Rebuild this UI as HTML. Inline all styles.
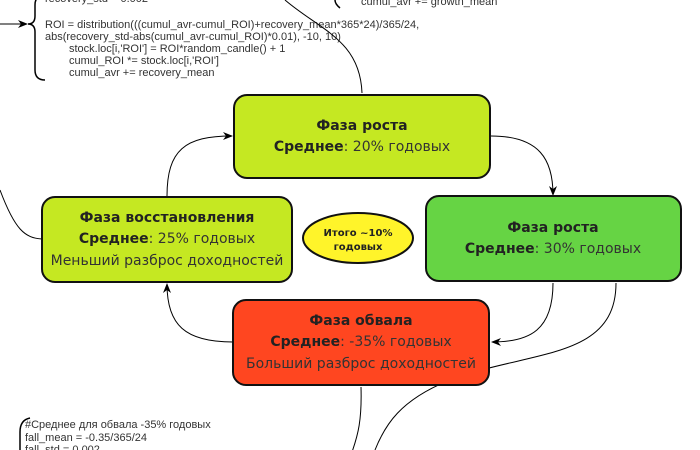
<!DOCTYPE html>
<html><head><meta charset="utf-8"><style>
html,body{margin:0;padding:0;background:#fff;width:700px;height:450px;overflow:hidden}
svg{display:block}
.code{font-family:"Liberation Sans","DejaVu Sans",sans-serif;font-size:11px;fill:#333}
.t{font-family:"DejaVu Sans","Liberation Sans",sans-serif;font-size:14px;fill:#333;text-anchor:middle}
.b{font-weight:bold;fill:#222}
</style></head><body>
<svg width="700" height="450" viewBox="0 0 700 450" xmlns="http://www.w3.org/2000/svg">
<defs><marker id="a" viewBox="0 0 10 10" refX="9" refY="5" markerWidth="10" markerHeight="10" orient="auto" markerUnits="userSpaceOnUse"><path d="M0,1 L10,5 L0,9 L3,5 z" fill="#000"/></marker></defs>
<!-- top code -->
<text class="code" x="45" y="2">recovery_std = 0.002</text>
<text class="code" x="45" y="28">ROI = distribution(((cumul_avr-cumul_ROI)+recovery_mean*365*24)/365/24,</text>
<text class="code" x="45" y="40">abs(recovery_std-abs(cumul_avr-cumul_ROI)*0.01), -10, 10)</text>
<text class="code" x="69" y="52">stock.loc[i,'ROI'] = ROI*random_candle() + 1</text>
<text class="code" x="69" y="64">cumul_ROI *= stock.loc[i,'ROI']</text>
<text class="code" x="69" y="76">cumul_avr += recovery_mean</text>
<path d="M45,-5 Q35,-5 35,5 L35,16 Q35,24 28,24 Q35,24 35,32 L35,70 Q35,80 45,80" fill="none" stroke="#000" stroke-width="1.5"/>
<line x1="0" y1="24" x2="27" y2="24" stroke="#000" stroke-width="1" marker-end="url(#a)"/>
<text class="code" x="361" y="5">cumul_avr += growth_mean</text>
<path d="M340,-8 Q330,0 340,8" fill="none" stroke="#000" stroke-width="1.5"/>
<!-- connectors -->
<path d="M285,0 C320,30 360,40 362,93" fill="none" stroke="#000" stroke-width="1"/>
<path d="M0,190 C15,230 25,238 42,239" fill="none" stroke="#000" stroke-width="1"/>
<path d="M167,196 C167,150 185,136 232,136" fill="none" stroke="#000" stroke-width="1" marker-end="url(#a)"/>
<path d="M491,136 C540,136 553,160 553,195" fill="none" stroke="#000" stroke-width="1" marker-end="url(#a)"/>
<path d="M553,283 C553,330 530,342 492,342" fill="none" stroke="#000" stroke-width="1" marker-end="url(#a)"/>
<path d="M616,283 C616,360 530,350 450,380 C400,400 385,425 375,450" fill="none" stroke="#000" stroke-width="1"/>
<path d="M361,387 C362,420 358,435 352,452" fill="none" stroke="#000" stroke-width="1"/>
<path d="M233,342 C185,342 167,325 167,284" fill="none" stroke="#000" stroke-width="1" marker-end="url(#a)"/>
<!-- boxes -->
<rect x="234" y="95" width="256" height="83" rx="13" fill="#c5e822" stroke="#111" stroke-width="2"/>
<text class="t b" x="362" y="130">Фаза роста</text>
<text class="t" x="362" y="151"><tspan class="b">Среднее</tspan>: 20% годовых</text>
<rect x="42" y="197" width="250" height="85" rx="13" fill="#c5e822" stroke="#111" stroke-width="2"/>
<text class="t b" x="167" y="222">Фаза восстановления</text>
<text class="t" x="167" y="243"><tspan class="b">Среднее</tspan>: 25% годовых</text>
<text class="t" x="167" y="265">Меньший разброс доходностей</text>
<ellipse cx="358" cy="238" rx="55" ry="25" fill="#fff42a" stroke="#111" stroke-width="2"/>
<text class="t b" x="358" y="236" style="font-size:10px">Итого ~10%</text>
<text class="t b" x="358" y="250" style="font-size:10px">годовых</text>
<rect x="426" y="196" width="255" height="85" rx="13" fill="#66d444" stroke="#111" stroke-width="2"/>
<text class="t b" x="553" y="232">Фаза роста</text>
<text class="t" x="553" y="253"><tspan class="b">Среднее</tspan>: 30% годовых</text>
<rect x="233" y="300" width="256" height="85" rx="13" fill="#ff4620" stroke="#111" stroke-width="2"/>
<text class="t b" x="361" y="325">Фаза обвала</text>
<text class="t" x="361" y="346"><tspan class="b">Среднее</tspan>: -35% годовых</text>
<text class="t" x="361" y="368">Больший разброс доходностей</text>
<!-- bottom code -->
<path d="M30,418 Q20,420 20,432 L20,460" fill="none" stroke="#000" stroke-width="1.5"/>
<text class="code" x="25" y="428">#Среднее для обвала -35% годовых</text>
<text class="code" x="25" y="441">fall_mean = -0.35/365/24</text>
<text class="code" x="25" y="453">fall_std = 0.002</text>
</svg>
</body></html>
